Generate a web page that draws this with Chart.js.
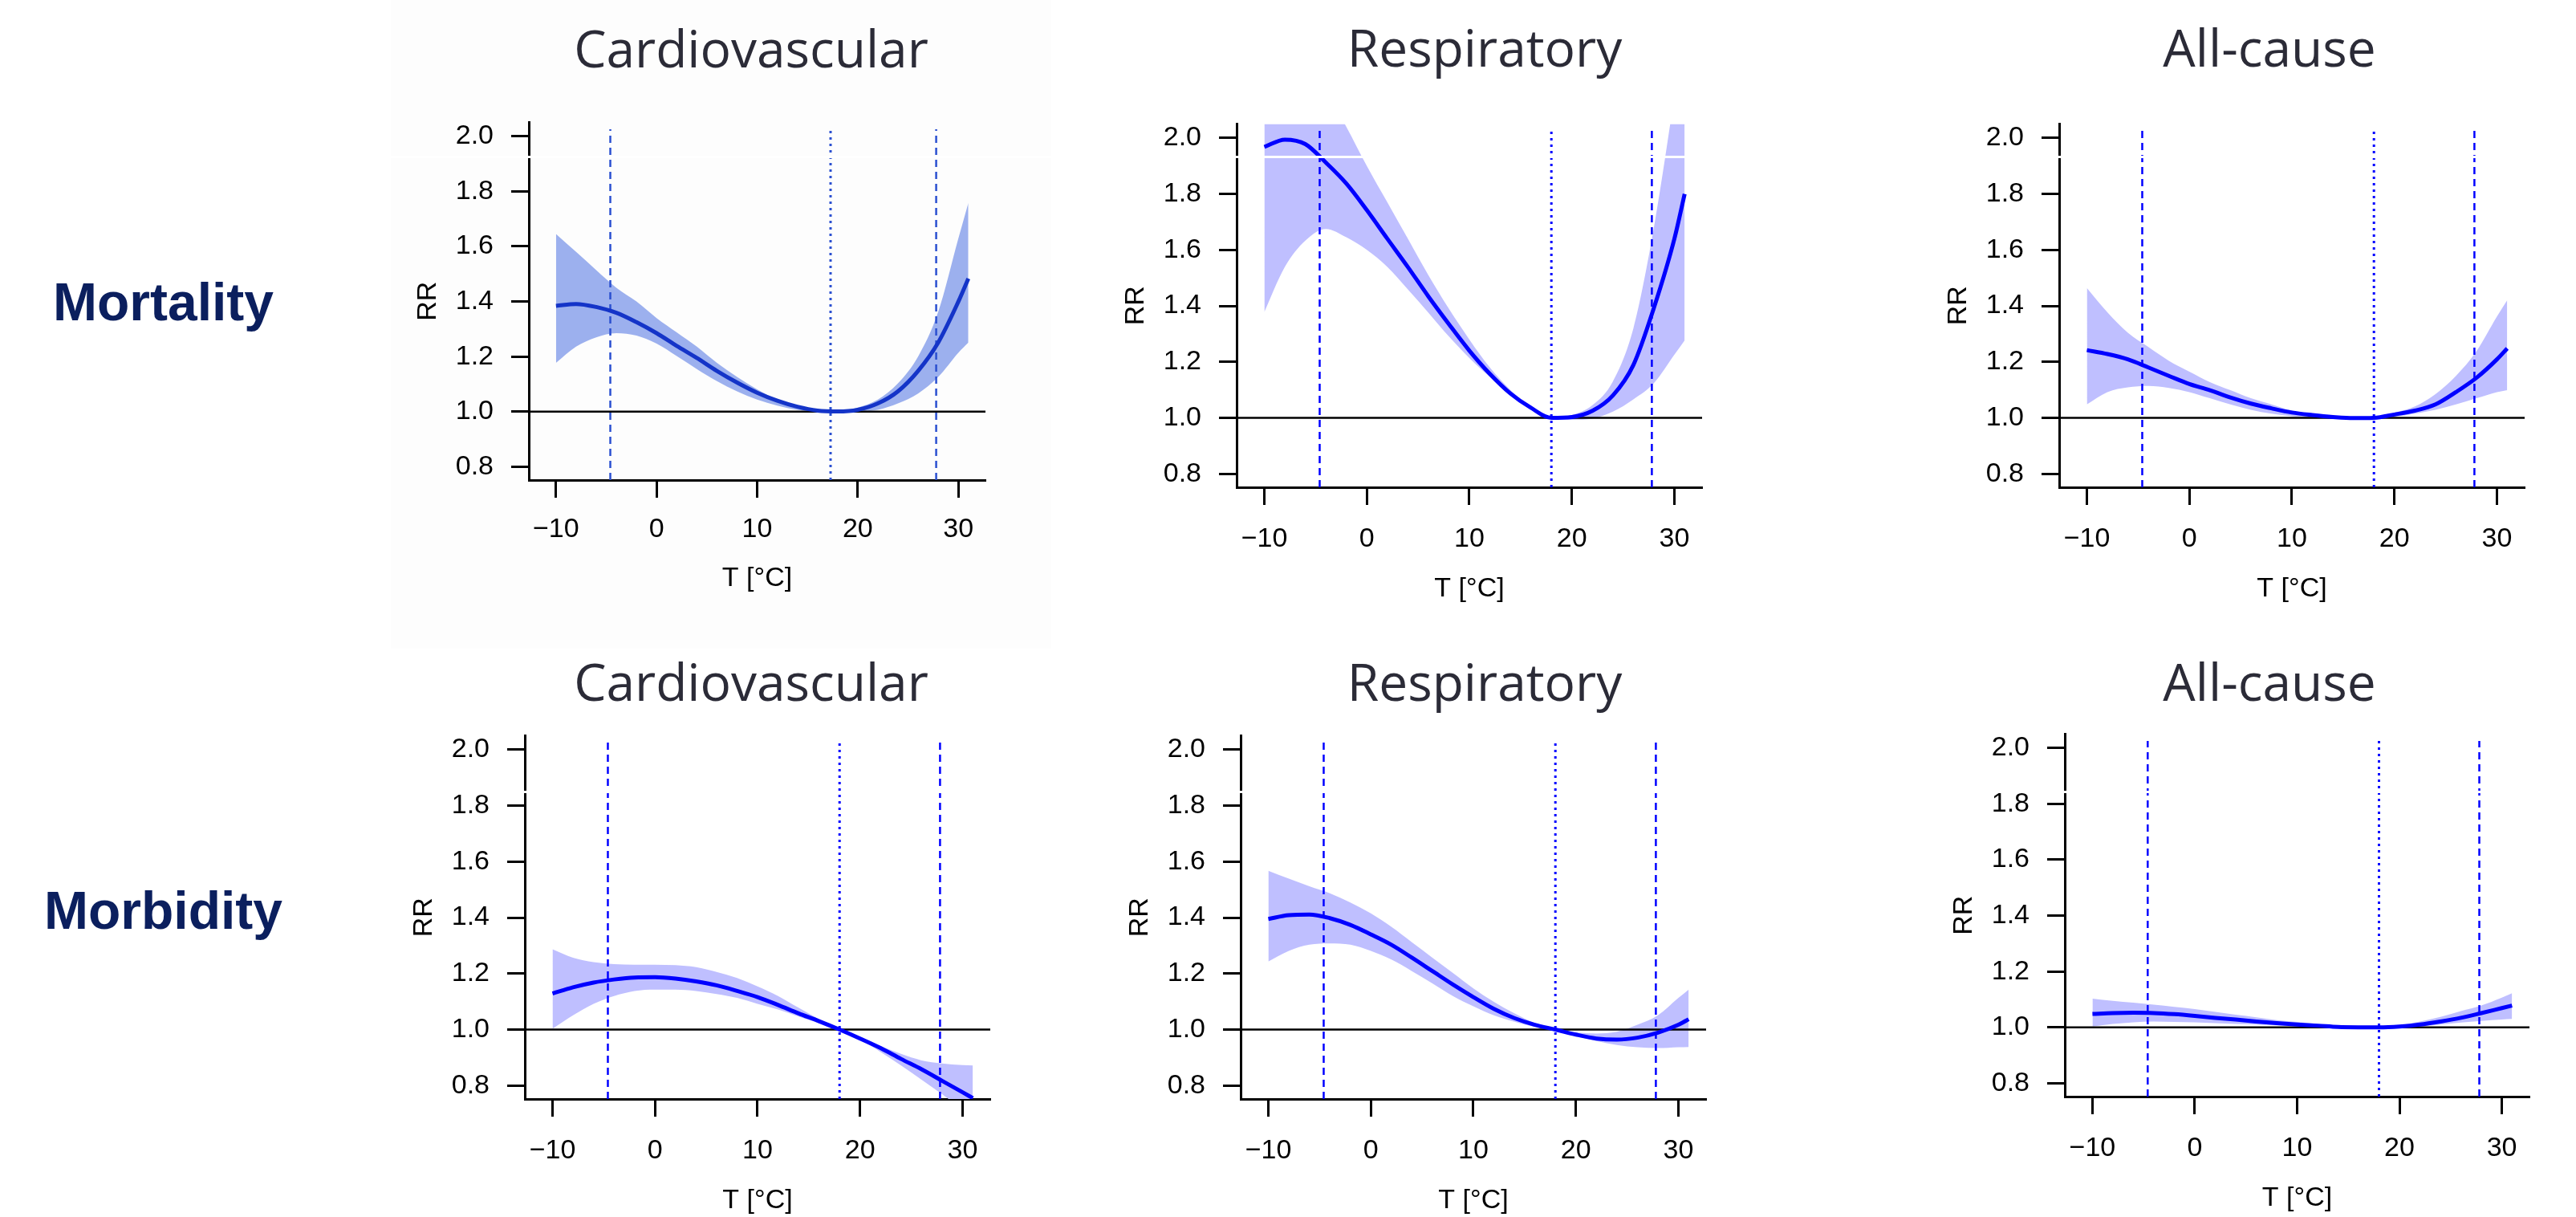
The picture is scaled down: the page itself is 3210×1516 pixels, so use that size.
<!DOCTYPE html>
<html>
<head>
<meta charset="utf-8">
<title>Temperature - RR curves</title>
<script src="https://cdn.jsdelivr.net/npm/chart.js@4.4.1/dist/chart.umd.min.js"></script>
<style>
  html, body { margin: 0; padding: 0; background: #ffffff; }
  body { position: relative; width: 3210px; height: 1516px; overflow: hidden; }
  canvas.panel { position: absolute; }
  .backdrop { position: absolute; background: #fdfdfd; }
  .title {
    position: absolute; white-space: nowrap; line-height: 1;
    font-family: 'Open Sans', Roboto, Arial, sans-serif;
    font-size: 64px; color: #2b2b37; transform: translateX(-50%);
  }
  .row-label {
    position: absolute; white-space: nowrap; line-height: 1;
    font-family: 'Liberation Sans', Arial, sans-serif; font-weight: bold;
    font-size: 66px; color: #0b1f5e;
  }
  .seam { position: absolute; left: 0; width: 3210px; height: 3px; background: #ffffff; }
</style>
</head>
<body>
<script>
// --- data -----------------------------------------------------------------

// temperature grid (°C) at which the curves were read
const temps = [-10, -8, -6, -4, -2, 0, 2, 4, 6, 8, 10, 12, 14, 16, 18, 20, 22, 24, 26, 28, 30, 31];
const xTicks = [-10, 0, 10, 20, 30];
const yTicks = [0.8, 1.0, 1.2, 1.4, 1.6, 1.8, 2.0];
const xRange = [-12.7, 32.7];
const yRange = [0.752, 2.05];

const outcomes = ['Mortality', 'Morbidity'];
const causes = ['Cardiovascular', 'Respiratory', 'All-cause'];

// cold / heat thresholds (dashed) and minimum risk temperature (dotted)
const coldCut = -4.6;
const hotCut = 27.8;
const mmtMortality = [17.3, 18, 18];
const mmtMorbidity = [18, 18, 18];
const refTop = 2.025;

// Mortality - cardiovascular
const mortCardioRR = [1.384, 1.391, 1.380, 1.359, 1.325, 1.285, 1.239, 1.195, 1.148, 1.106, 1.069, 1.040, 1.018, 1.004, 1.001, 1.007, 1.030, 1.074, 1.148, 1.251, 1.399, 1.483];
const mortCardioLo = [1.177, 1.236, 1.270, 1.285, 1.276, 1.247, 1.202, 1.155, 1.111, 1.074, 1.044, 1.022, 1.007, 1.001, 1.000, 1.000, 1.007, 1.030, 1.066, 1.126, 1.214, 1.251];
const mortCardioHi = [1.645, 1.580, 1.514, 1.450, 1.400, 1.340, 1.288, 1.236, 1.177, 1.126, 1.081, 1.044, 1.019, 1.004, 1.002, 1.015, 1.044, 1.103, 1.200, 1.362, 1.628, 1.758];

// Mortality - respiratory
const mortRespRR = [1.968, 1.994, 1.978, 1.912, 1.837, 1.742, 1.640, 1.539, 1.434, 1.335, 1.240, 1.157, 1.087, 1.036, 1.000, 1.003, 1.025, 1.080, 1.189, 1.393, 1.640, 1.800];
const mortRespLo = [1.378, 1.539, 1.633, 1.675, 1.645, 1.600, 1.539, 1.459, 1.376, 1.291, 1.214, 1.146, 1.083, 1.030, 1.000, 0.993, 0.997, 1.022, 1.066, 1.124, 1.226, 1.277];
const mortRespHi = [2.800, 2.600, 2.400, 2.170, 2.040, 1.900, 1.770, 1.640, 1.510, 1.390, 1.280, 1.180, 1.100, 1.040, 1.000, 1.010, 1.045, 1.130, 1.320, 1.680, 2.150, 2.400];

// Mortality - all-cause
const mortAllRR = [1.242, 1.228, 1.209, 1.180, 1.150, 1.121, 1.099, 1.073, 1.051, 1.034, 1.019, 1.010, 1.003, 0.999, 1.000, 1.012, 1.026, 1.048, 1.092, 1.143, 1.209, 1.248];
const mortAllLo = [1.048, 1.092, 1.109, 1.114, 1.107, 1.092, 1.070, 1.048, 1.029, 1.015, 1.006, 1.000, 0.997, 0.997, 1.000, 1.004, 1.015, 1.029, 1.048, 1.070, 1.092, 1.099];
const mortAllHi = [1.464, 1.377, 1.304, 1.253, 1.204, 1.165, 1.128, 1.099, 1.070, 1.048, 1.026, 1.012, 1.004, 1.000, 1.000, 1.019, 1.041, 1.085, 1.150, 1.238, 1.362, 1.420];

// Morbidity - cardiovascular
const morbCardioRR = [1.129, 1.151, 1.168, 1.179, 1.186, 1.187, 1.182, 1.172, 1.158, 1.138, 1.116, 1.088, 1.058, 1.030, 1.000, 0.968, 0.934, 0.895, 0.858, 0.817, 0.776, 0.755];
const morbCardioLo = [1.003, 1.051, 1.092, 1.120, 1.138, 1.143, 1.143, 1.138, 1.127, 1.113, 1.092, 1.072, 1.047, 1.023, 1.000, 0.964, 0.920, 0.872, 0.821, 0.769, 0.714, 0.686];
const morbCardioHi = [1.287, 1.257, 1.241, 1.234, 1.232, 1.232, 1.230, 1.223, 1.206, 1.184, 1.154, 1.120, 1.078, 1.037, 1.000, 0.970, 0.941, 0.913, 0.890, 0.879, 0.873, 0.872];

// Morbidity - respiratory
const morbRespRR = [1.395, 1.409, 1.411, 1.398, 1.374, 1.340, 1.303, 1.257, 1.209, 1.161, 1.116, 1.074, 1.041, 1.017, 1.000, 0.982, 0.968, 0.964, 0.971, 0.989, 1.017, 1.037];
const morbRespLo = [1.243, 1.281, 1.303, 1.308, 1.303, 1.281, 1.250, 1.209, 1.165, 1.120, 1.083, 1.051, 1.028, 1.010, 1.000, 0.978, 0.959, 0.945, 0.937, 0.934, 0.937, 0.938];
const morbRespHi = [1.567, 1.539, 1.512, 1.487, 1.454, 1.415, 1.367, 1.312, 1.257, 1.202, 1.147, 1.099, 1.058, 1.023, 1.000, 0.989, 0.986, 0.992, 1.017, 1.051, 1.113, 1.143];

// Morbidity - all-cause
const morbAllRR = [1.048, 1.051, 1.052, 1.051, 1.047, 1.041, 1.034, 1.028, 1.021, 1.015, 1.010, 1.006, 1.001, 1.000, 1.000, 1.003, 1.010, 1.021, 1.034, 1.051, 1.069, 1.078];
const morbAllLo = [1.003, 1.012, 1.018, 1.021, 1.019, 1.018, 1.015, 1.012, 1.010, 1.007, 1.004, 1.003, 1.001, 1.000, 1.000, 1.000, 1.003, 1.010, 1.017, 1.023, 1.028, 1.030];
const morbAllHi = [1.103, 1.095, 1.088, 1.081, 1.073, 1.065, 1.055, 1.045, 1.036, 1.026, 1.019, 1.012, 1.006, 1.001, 1.000, 1.007, 1.021, 1.037, 1.058, 1.078, 1.106, 1.122];

// --- layout & styles ------------------------------------------------------

// the first panel was pasted in from a different export, slightly different colours
const themeOld = { band: '#9cb0ee', line: '#1434c8', ref: '#2a4fd0' };
const themeNew = { band: '#bfbfff', line: '#0000ff', ref: '#0000ff' };

const tickFont = { family: "'Liberation Sans', Arial, sans-serif", size: 34 };

// plot box in page pixels: left, right, top, bottom (x axis)
const panels = [
  { rr: mortCardioRR, lo: mortCardioLo, hi: mortCardioHi, mmt: mmtMortality[0], title: causes[0], L: 659, R: 1228, T: 150, B: 598, tx: 936, tb: 84, tickPad: 19, xTitlePad: 7.3, theme: themeOld },
  { rr: mortRespRR, lo: mortRespLo, hi: mortRespHi, mmt: mmtMortality[1], title: causes[1], L: 1541, R: 2121, T: 152, B: 607, tx: 1850, tb: 83, tickPad: 22, xTitlePad: 2.8, theme: themeNew },
  { rr: mortAllRR, lo: mortAllLo, hi: mortAllHi, mmt: mmtMortality[2], title: causes[2], L: 2566, R: 3146, T: 152, B: 607, tx: 2828, tb: 83, tickPad: 22, xTitlePad: 2.8, theme: themeNew },
  { rr: morbCardioRR, lo: morbCardioLo, hi: morbCardioHi, mmt: mmtMorbidity[0], title: causes[0], L: 654, R: 1234, T: 914, B: 1369, tx: 936, tb: 873, tickPad: 22, xTitlePad: 2.8, theme: themeNew },
  { rr: morbRespRR, lo: morbRespLo, hi: morbRespHi, mmt: mmtMorbidity[1], title: causes[1], L: 1546, R: 2126, T: 914, B: 1369, tx: 1850, tb: 873, tickPad: 22, xTitlePad: 2.8, theme: themeNew },
  { rr: morbAllRR, lo: morbAllLo, hi: morbAllHi, mmt: mmtMorbidity[2], title: causes[2], L: 2573, R: 3152, T: 912, B: 1366, tx: 2828, tb: 873, tickPad: 22, xTitlePad: 2.8, theme: themeNew }
];

// row labels on the left
const rowLabels = [
  { text: outcomes[0], left: 66, baseline: 399 },
  { text: outcomes[1], left: 55, baseline: 1157 }
];

const placed = [];

// text element positioned by its baseline (a zero-size marker finds it)
function addText(cls, text, left, baseline) {
  const el = document.createElement('div');
  el.className = cls;
  el.appendChild(document.createTextNode(text));
  const mark = document.createElement('span');
  mark.style.cssText = 'display:inline-block;width:0;height:0;vertical-align:baseline';
  el.appendChild(mark);
  el.style.left = left + 'px';
  el.style.top = '0px';
  document.body.appendChild(el);
  placed.push({ el, mark, baseline });
}

function fixBaselines() {
  placed.forEach(({ el, mark, baseline }) => {
    el.style.top = '0px';
    const off = mark.getBoundingClientRect().top - el.getBoundingClientRect().top;
    el.style.top = (baseline - off) + 'px';
  });
}

const points = arr => temps.map((t, i) => ({ x: t, y: arr[i] }));

function refLine(x, dash, width, color) {
  return {
    data: [{ x: x, y: yRange[0] }, { x: x, y: refTop }],
    borderColor: color, borderWidth: width, borderDash: dash,
    pointRadius: 0, fill: false, order: 2
  };
}

function makePanel(p) {
  const padL = 20, padR = 40, padT = 40, padB = 30, axisW = 150, axisH = 150;
  const canvas = document.createElement('canvas');
  canvas.className = 'panel';
  canvas.width = p.R - p.L + padL + axisW + padR;
  canvas.height = p.B - p.T + padT + axisH + padB;
  canvas.style.left = (p.L - padL - axisW) + 'px';
  canvas.style.top = (p.T - padT) + 'px';
  document.body.appendChild(canvas);

  new Chart(canvas.getContext('2d'), {
    type: 'line',
    data: {
      datasets: [
        // confidence band: upper edge filled down to the lower edge
        { data: points(p.hi), borderWidth: 0, backgroundColor: p.theme.band, fill: '+1',
          pointRadius: 0, cubicInterpolationMode: 'monotone', order: 4 },
        { data: points(p.lo), borderWidth: 0, fill: false,
          pointRadius: 0, cubicInterpolationMode: 'monotone', order: 4 },
        // RR = 1 reference
        { data: [{ x: xRange[0], y: 1 }, { x: xRange[1], y: 1 }], borderColor: '#000000',
          borderWidth: 2.5, pointRadius: 0, fill: false, order: 3 },
        refLine(coldCut, [9, 6], 2.5, p.theme.ref),
        refLine(p.mmt, [3, 5], 3, p.theme.ref),
        refLine(hotCut, [9, 6], 2.5, p.theme.ref),
        // estimated curve
        { data: points(p.rr), borderColor: p.theme.line, borderWidth: 5, fill: false,
          pointRadius: 0, cubicInterpolationMode: 'monotone', order: 1 }
      ]
    },
    options: {
      responsive: false,
      animation: false,
      events: [],
      layout: { padding: { left: padL, right: padR, top: padT, bottom: padB } },
      plugins: { legend: { display: false }, tooltip: { enabled: false }, title: { display: false } },
      scales: {
        x: {
          type: 'linear', min: xRange[0], max: xRange[1],
          afterBuildTicks: s => { s.ticks = xTicks.map(v => ({ value: v })); },
          afterFit: s => { s.height = axisH; },
          ticks: {
            font: tickFont, color: '#000000', padding: p.tickPad, maxRotation: 0, autoSkip: false,
            callback: v => (v < 0 ? '\u2212' + Math.abs(v) : String(v))
          },
          grid: { drawOnChartArea: false, drawTicks: true, tickLength: 22, tickWidth: 3, tickColor: '#000000' },
          border: { display: true, color: '#000000', width: 3 },
          title: { display: true, text: 'T [°C]', font: tickFont, color: '#000000', padding: { top: 0, bottom: p.xTitlePad } }
        },
        y: {
          type: 'linear', min: yRange[0], max: yRange[1],
          afterBuildTicks: s => { s.ticks = yTicks.map(v => ({ value: v })); },
          afterFit: s => { s.width = axisW; },
          ticks: { font: tickFont, color: '#000000', padding: 22, callback: v => v.toFixed(1) },
          grid: { drawOnChartArea: false, drawTicks: true, tickLength: 22, tickWidth: 3, tickColor: '#000000' },
          border: { display: true, color: '#000000', width: 3 },
          title: { display: true, text: 'RR', font: tickFont, color: '#000000', padding: { top: 4.6, bottom: 0 } }
        }
      }
    }
  });

  addText('title', p.title, p.tx, p.tb);
}

// faint grey backing behind the first panel (it came from another image)
const back = document.createElement('div');
back.className = 'backdrop';
back.style.cssText = 'left:487px;top:0;width:823px;height:808px';
document.body.appendChild(back);

panels.forEach(makePanel);
rowLabels.forEach(r => addText('row-label', r.text, r.left, r.baseline));
fixBaselines();
if (document.fonts && document.fonts.ready) document.fonts.ready.then(fixBaselines);

// thin white seams that cross the original figure
[194, 985].forEach(y => {
  const s = document.createElement('div');
  s.className = 'seam';
  s.style.top = y + 'px';
  document.body.appendChild(s);
});
</script>
</body>
</html>
